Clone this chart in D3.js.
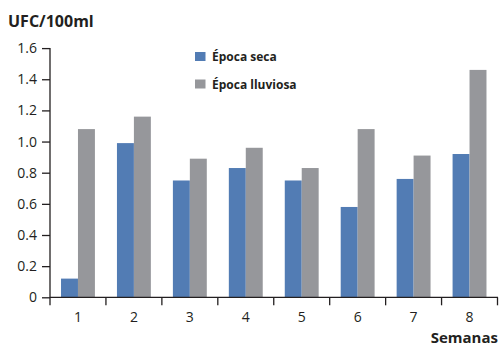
<!DOCTYPE html>
<html>
<head>
<meta charset="utf-8">
<script src="https://cdn.jsdelivr.net/npm/d3@7"></script>
<style>
  html, body { margin: 0; padding: 0; background: #fff; }
  svg { display: block; }
  text { font-family: "Open Sans", "Noto Sans", sans-serif; fill: #231f20; }
</style>
</head>
<body>
<svg id="chart" width="502" height="346"></svg>
<script>
// Weekly coliform counts (UFC/100ml) by season
const weeks = ["1", "2", "3", "4", "5", "6", "7", "8"];
const seriesNames = ["Época seca", "Época lluviosa"];
const drySeason = [0.12, 0.99, 0.75, 0.83, 0.75, 0.58, 0.76, 0.92];
const rainySeason = [1.08, 1.16, 0.89, 0.96, 0.83, 1.08, 0.91, 1.46];
const yTicks = [0, 0.2, 0.4, 0.6, 0.8, 1.0, 1.2, 1.4, 1.6];
const colors = ["#527cb4", "#96979b"];

const svg = d3.select("#chart");
const plotLeft = 50, plotRight = 497.5, plotTop = 48.1, plotBottom = 297.3;

const x = d3.scaleBand().domain(weeks).range([plotLeft, plotRight]).paddingInner(0).paddingOuter(0);
const xInner = d3.scaleBand().domain(seriesNames).range([0, x.bandwidth()]).paddingInner(0).paddingOuter(0.65);
const y = d3.scaleLinear().domain([0, 1.6]).range([plotBottom, plotTop]);

const rows = weeks.map((w, i) => ({ week: w, values: [drySeason[i], rainySeason[i]] }));

// bars
const groups = svg.append("g").selectAll("g").data(rows).join("g")
  .attr("transform", d => `translate(${x(d.week)},0)`);
groups.selectAll("rect")
  .data(d => d.values.map((v, k) => ({ name: seriesNames[k], value: v, k })))
  .join("rect")
  .attr("x", d => xInner(d.name))
  .attr("width", xInner.bandwidth())
  .attr("y", d => y(d.value))
  .attr("height", d => plotBottom - y(d.value))
  .attr("fill", d => colors[d.k]);

// y axis
const yAxis = svg.append("g").attr("transform", `translate(${plotLeft},0)`)
  .call(d3.axisLeft(y).tickValues(yTicks).tickSize(8).tickPadding(5)
    .tickFormat(d => d === 0 ? "0" : d3.format(".1f")(d)));
yAxis.select(".domain").remove();
yAxis.append("line").attr("x1", 0).attr("x2", 0).attr("y1", plotTop).attr("y2", plotBottom + 8)
  .attr("stroke", "#231f20").attr("stroke-width", 1.3);
yAxis.selectAll(".tick line").attr("stroke", "#231f20").attr("stroke-width", 1.3);
yAxis.selectAll(".tick text").style("font-size", "14px").attr("fill", "#231f20");

// x axis: ticks on band boundaries, labels centred in bands
const xAxis = svg.append("g").attr("transform", `translate(0,${plotBottom})`);
xAxis.append("line").attr("x1", plotLeft).attr("x2", plotRight + 0.5).attr("y1", 0).attr("y2", 0)
  .attr("stroke", "#231f20").attr("stroke-width", 1.3);
const boundaries = weeks.map(w => x(w)).concat([x(weeks[weeks.length - 1]) + x.bandwidth()]);
xAxis.selectAll("line.tk").data(boundaries.slice(1)).join("line").attr("class", "tk")
  .attr("x1", d => d).attr("x2", d => d).attr("y1", 0).attr("y2", 8)
  .attr("stroke", "#231f20").attr("stroke-width", 1.3);
xAxis.selectAll("text").data(weeks).join("text")
  .attr("x", d => x(d) + x.bandwidth() / 2).attr("y", 24.5)
  .attr("text-anchor", "middle").style("font-size", "14px").text(d => d);

// axis titles
svg.append("text").attr("x", 8).attr("y", 27).style("font-size", "16px").style("font-weight", "bold")
  .text("UFC/100ml");
svg.append("text").attr("x", 498).attr("y", 343).attr("text-anchor", "end")
  .style("font-size", "15px").style("font-weight", "bold").text("Semanas");

// legend
const legend = svg.append("g").selectAll("g").data(seriesNames).join("g")
  .attr("transform", (d, i) => `translate(195,${52 + i * 27.5})`);
legend.append("rect").attr("width", 10.5).attr("height", 9).attr("fill", (d, i) => colors[i]);
legend.append("text").attr("x", 17).attr("y", 9).style("font-size", "12px").style("font-weight", "bold")
  .text(d => d);
</script>
</body>
</html>
